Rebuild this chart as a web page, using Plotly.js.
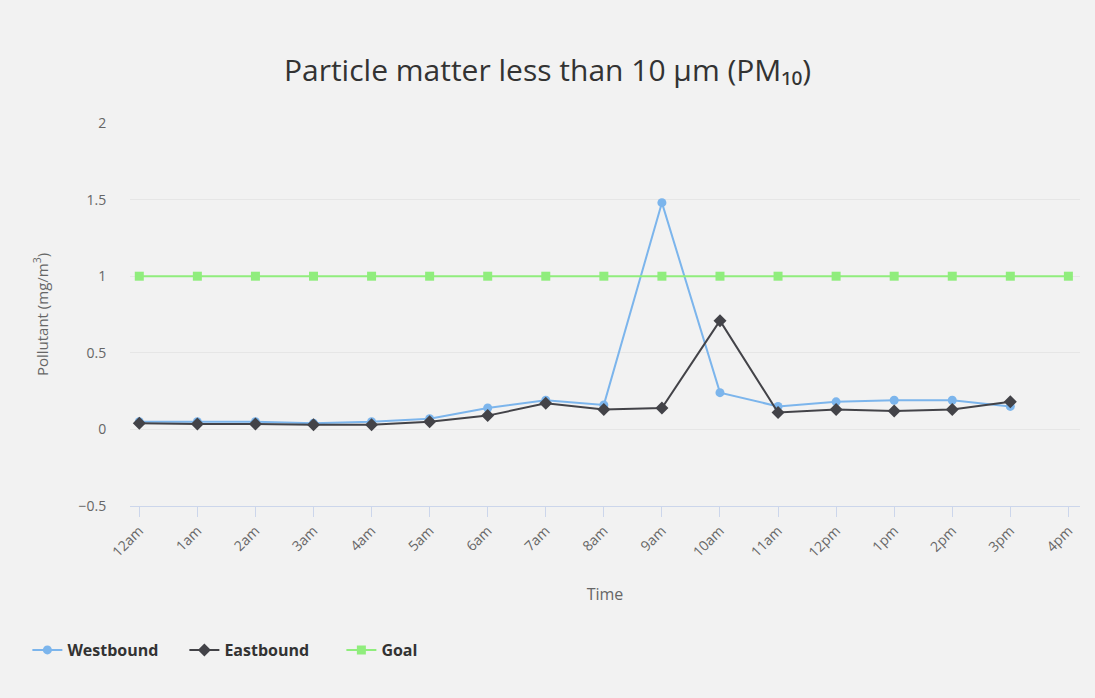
<!DOCTYPE html>
<html>
<head>
<meta charset="utf-8">
<script src="https://cdn.plot.ly/plotly-3.0.1.min.js"></script>
<style>html,body{margin:0;padding:0;background:#f2f2f2;}#chart{width:1095px;height:698px;}</style>
</head>
<body>
<div id="chart"></div>
<script>
const categories = ["12am","1am","2am","3am","4am","5am","6am","7am","8am","9am","10am","11am","12pm","1pm","2pm","3pm","4pm"];
const westbound = [0.05,0.05,0.05,0.04,0.05,0.07,0.14,0.19,0.16,1.48,0.24,0.15,0.18,0.19,0.19,0.15];
const eastbound = [0.04,0.035,0.035,0.03,0.03,0.05,0.09,0.17,0.13,0.14,0.71,0.11,0.13,0.12,0.13,0.18];
const goal = [1,1,1,1,1,1,1,1,1,1,1,1,1,1,1,1,1];

const traces = [
  {name:"Westbound", x:categories.slice(0,westbound.length), y:westbound, type:"scatter", mode:"lines+markers",
   line:{color:"#7cb5ec", width:2}, marker:{symbol:"circle", size:9, color:"#7cb5ec"}},
  {name:"Eastbound", x:categories.slice(0,eastbound.length), y:eastbound, type:"scatter", mode:"lines+markers",
   line:{color:"#434348", width:2}, marker:{symbol:"diamond", size:10, color:"#434348"}},
  {name:"Goal", x:categories, y:goal, type:"scatter", mode:"lines+markers",
   line:{color:"#90ed7d", width:2}, marker:{symbol:"square", size:9, color:"#90ed7d"}}
];

const layout = {
  width:1095, height:698,
  paper_bgcolor:"#f2f2f2", plot_bgcolor:"#f2f2f2",
  font:{family:"Open Sans, DejaVu Sans, sans-serif", color:"#666666"},
  margin:{l:130, r:15, t:123, b:192},
  title:{text:"Particle matter less than 10 µm (PM₁₀)", font:{size:30, color:"#333333", family:"Open Sans, DejaVu Sans, sans-serif"},
         x:0.5, xanchor:"center", xref:"container", y:1-70/698, yanchor:"middle", yref:"container"},
  xaxis:{type:"category", categoryorder:"array", categoryarray:categories, range:[-0.16, 16.2],
         tickangle:-45, tickfont:{size:14, color:"#666666"}, ticks:"outside", ticklen:10, tickcolor:"#ccd6eb", tickwidth:1,
         showline:true, linecolor:"#ccd6eb", linewidth:1, showgrid:false, zeroline:false,
         title:{text:"Time", font:{size:16, color:"#666666"}, standoff:28}},
  yaxis:{range:[-0.5,2], tickvals:[-0.5,0,0.5,1,1.5,2], ticktext:["−0.5","0","0.5","1","1.5","2"],
         tickfont:{size:14, color:"#666666"}, gridcolor:"#e6e6e6", gridwidth:1, zeroline:false, showline:false,
         ticks:"outside", ticklen:20, tickcolor:"rgba(0,0,0,0)",
         title:{text:"Pollutant (mg/m<sup>3</sup>)", font:{size:15, color:"#666666"}, standoff:26}},
  showlegend:true,
  legend:{orientation:"h", xref:"container", yref:"container", x:0.025, xanchor:"left", y:48/698, yanchor:"middle",
          font:{size:16, color:"#333333", family:"Open Sans, DejaVu Sans, sans-serif", weight:"bold"},
          bgcolor:"rgba(0,0,0,0)", itemwidth:30, entrywidth:112, entrywidthmode:"pixels", traceorder:"normal"},
  hovermode:false
};

Plotly.newPlot("chart", traces, layout, {displayModeBar:false, staticPlot:true});
</script>
</body>
</html>
